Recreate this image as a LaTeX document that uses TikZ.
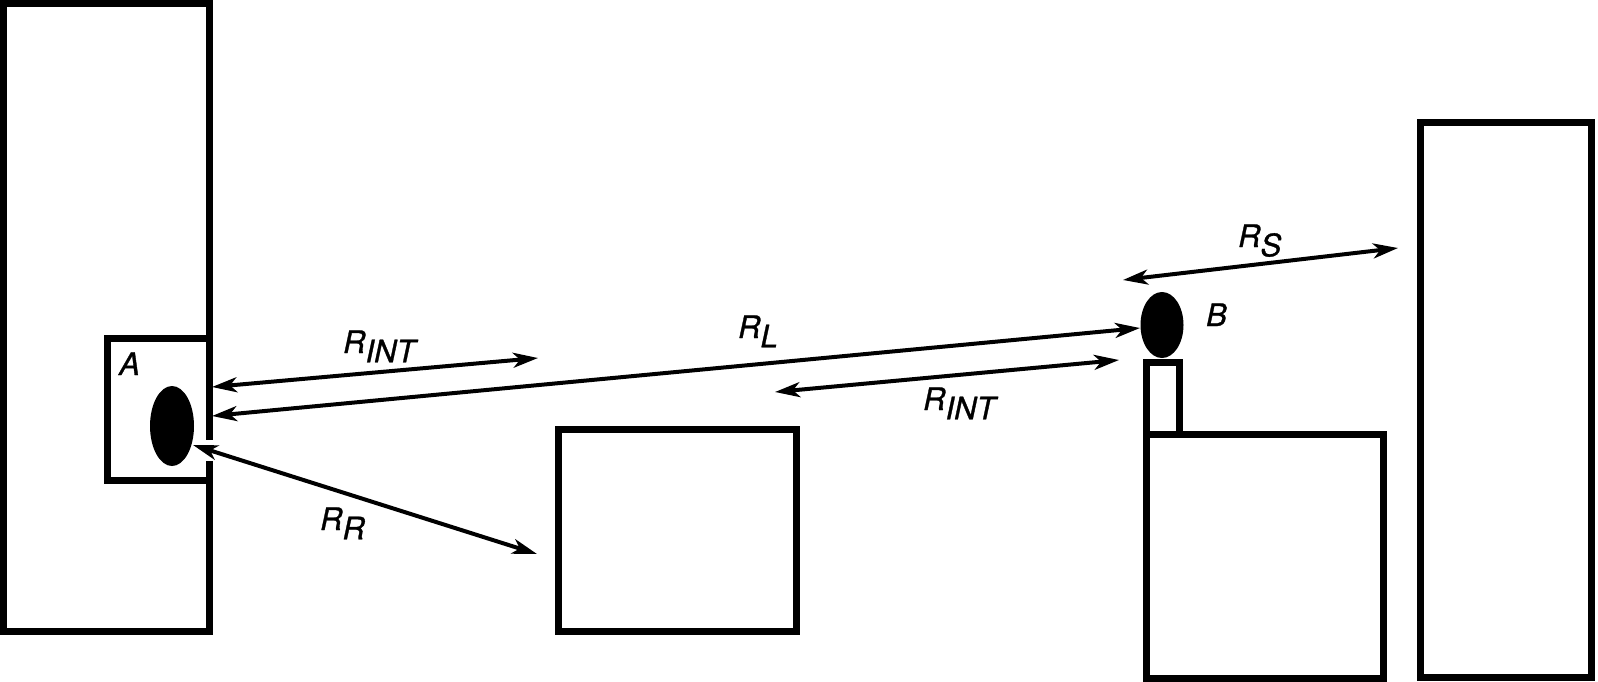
\documentclass[tikz,border=0pt]{standalone}
\usepackage{fontspec}
\setmainfont{TeX Gyre Heros}
\newfontfamily\lblfont{TeX Gyre Heros}[FakeBold=1]
\usetikzlibrary{arrows.meta, shapes.geometric}
\newcommand{\lowsub}[1]{\raisebox{-0.3em}{#1}}

\begin{document}
\begin{tikzpicture}[x=1pt, y=-1pt]
    % Styles
    \tikzstyle{wall} = [line width=7pt]
    \tikzstyle{ray} = [line width=4pt, {Stealth[length=25pt,width=15pt,inset=7pt]}-{Stealth[length=25pt,width=15pt,inset=7pt]}]
    \tikzstyle{lbl} = [font=\lblfont\fontsize{31}{35}\selectfont\itshape, inner sep=0pt, anchor=base west]

    \useasboundingbox (0,0) rectangle (1598,681);

    % Buildings and furniture
    \draw[wall] (3.5,3.5) rectangle (209.5,631);
    \draw[wall] (107.5,338.5) rectangle (209.5,480.5);
    \draw[wall] (558.5,429.5) rectangle (796.5,631);
    \draw[wall] (1146,434) rectangle (1383,678);
    \draw[wall] (1146,362.5) rectangle (1179.5,434);
    \draw[wall] (1420.5,122.5) rectangle (1591.5,677);
    \fill[white] (204,440) rectangle (215,461);

    % Antennas
    \node[fill, ellipse, minimum width=44pt, minimum height=80pt, inner sep=0pt] (ea) at (172,426) {};
    \node[fill, ellipse, minimum width=43pt, minimum height=66pt, inner sep=0pt] (eb) at (1162,325) {};

    % Ray end points
    \coordinate (i1a) at (212,387);
    \coordinate (i1b) at (538,358);
    \coordinate (la) at (212,416);
    \coordinate (lb) at (1140,328);
    \coordinate (i2a) at (775,392);
    \coordinate (i2b) at (1119,360);
    \coordinate (ra) at (193,445);
    \coordinate (rb) at (537,554);
    \coordinate (sa) at (1123,280);
    \coordinate (sb) at (1398,248);

    % Rays
    \draw[ray] (i1a) -- (i1b);
    \draw[ray] (la) -- (lb);
    \draw[ray] (i2a) -- (i2b);
    \draw[ray] (ra) -- (rb);
    \draw[ray] (sa) -- (sb);

    % Labels
    \node[lbl] (ta) at (119,375) {A};
    \node[lbl] (tb) at (1206,326) {B};
    \node[lbl] (ti1) at (343,353) {R\lowsub{INT}};
    \node[lbl] (tl) at (738,338) {R\lowsub{L}};
    \node[lbl] (ti2) at (923,410) {R\lowsub{INT}};
    \node[lbl] (tr) at (320,530) {R\lowsub{R}};
    \node[lbl] (ts) at (1238,247) {R\lowsub{S}};
\end{tikzpicture}
\end{document}
